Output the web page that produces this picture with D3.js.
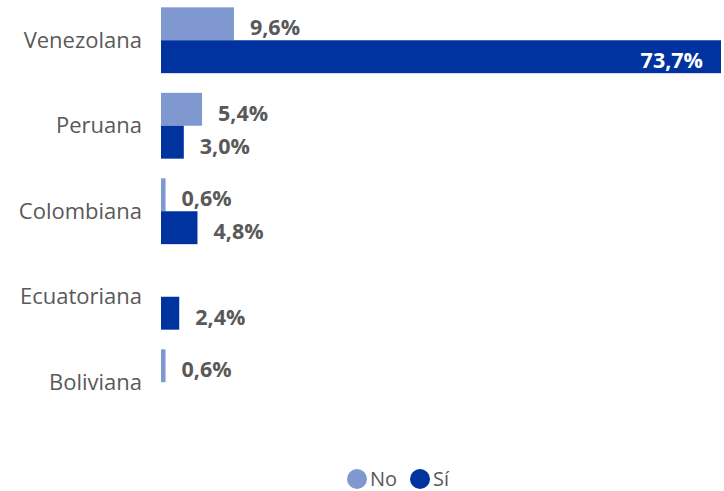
<!DOCTYPE html>
<html>
<head>
<meta charset="utf-8">
<script src="https://cdn.jsdelivr.net/npm/d3@7"></script>
<style>
  body { margin: 0; background: #fff; }
  svg { display: block; font-family: 'Open Sans', 'Noto Sans', sans-serif; }
</style>
</head>
<body>
<div id="chart"></div>
<script>
// データ -------------------------------------------------------------
const categories = ['Venezolana', 'Peruana', 'Colombiana', 'Ecuatoriana', 'Boliviana'];
const seriesNames = ['No', 'Sí'];
const valuesNo = [9.6, 5.4, 0.6, null, 0.6];
const valuesSi = [73.7, 3.0, 4.8, 2.4, null];
const colors = ['#7f99d0', '#0033a0'];
// -------------------------------------------------------------------
const width = 724;
const height = 491;
const textColor = '#595959';
const fmt = v => v.toFixed(1).replace('.', ',') + '%';

const svg = d3.select('#chart').append('svg')
  .attr('width', width)
  .attr('height', height);

// スケール
const yScale = d3.scaleBand()
  .domain(categories)
  .range([-2.5, 425])
  .paddingInner(0.23)
  .paddingOuter(0.115);
const ySub = d3.scaleBand()
  .domain(seriesNames)
  .range([0, yScale.bandwidth()]);
const xScale = d3.scaleLinear()
  .domain([0, 73.7])
  .range([161, 721]);

// カテゴリラベル
svg.append('g')
  .attr('transform', 'translate(142,0)')
  .call(d3.axisLeft(yScale).tickSize(0).tickPadding(0))
  .call(g => g.select('.domain').remove())
  .selectAll('text')
  .attr('font-size', '22px')
  .attr('font-family', "'Open Sans', 'Noto Sans', sans-serif")
  .attr('fill', textColor)
  .attr('dy', '0.35em');

// バー
const rows = [];
categories.forEach((c, i) => {
  rows.push({cat: c, series: 'No', value: valuesNo[i], color: colors[0]});
  rows.push({cat: c, series: 'Sí', value: valuesSi[i], color: colors[1]});
});
const present = rows.filter(d => d.value !== null);

svg.selectAll('.bar')
  .data(present)
  .enter()
  .append('rect')
  .attr('class', 'bar')
  .attr('x', xScale(0))
  .attr('y', d => yScale(d.cat) + ySub(d.series))
  .attr('width', d => xScale(d.value) - xScale(0))
  .attr('height', ySub.bandwidth())
  .attr('fill', d => d.color);

// 値ラベル
svg.selectAll('.val')
  .data(present)
  .enter()
  .append('text')
  .attr('class', 'val')
  .attr('x', d => d.value > 50 ? xScale(d.value) - 18 : xScale(d.value) + 16)
  .attr('y', d => yScale(d.cat) + ySub(d.series) + ySub.bandwidth() / 2 + 4)
  .attr('dy', '0.35em')
  .attr('text-anchor', d => d.value > 50 ? 'end' : 'start')
  .attr('font-size', '21.5px')
  .attr('font-weight', 'bold')
  .attr('fill', d => d.value > 50 ? '#ffffff' : textColor)
  .text(d => fmt(d.value));

// 凡例
const legend = svg.append('g').attr('transform', 'translate(0,479)');
const legendX = [357, 420];
seriesNames.forEach((s, i) => {
  legend.append('circle')
    .attr('cx', legendX[i])
    .attr('cy', 0)
    .attr('r', 10)
    .attr('fill', colors[i]);
  legend.append('text')
    .attr('x', legendX[i] + 13)
    .attr('y', 0)
    .attr('dy', '0.35em')
    .attr('font-size', '20px')
    .attr('fill', textColor)
    .text(s);
});
</script>
</body>
</html>
